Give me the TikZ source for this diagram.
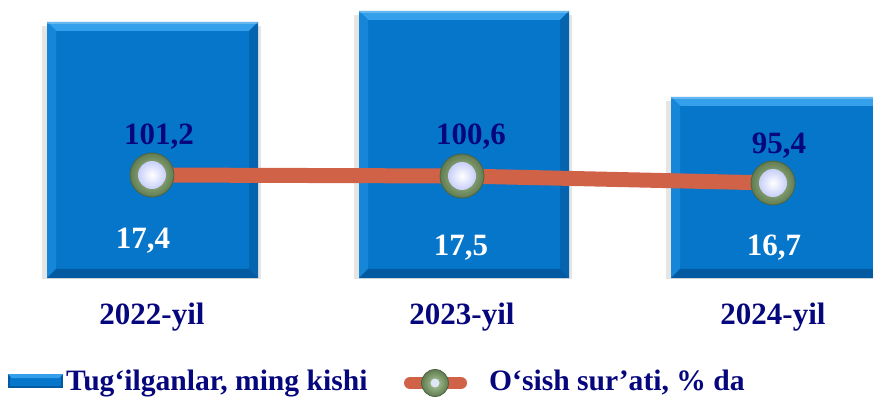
\documentclass[tikz,border=0pt]{standalone}
\usepackage{fontspec}
\setmainfont{Liberation Serif}
\usetikzlibrary{shadings,calc}
\definecolor{barblue}{RGB}{6,118,202}
\definecolor{bevtop}{RGB}{52,160,236}
\definecolor{bevleft}{RGB}{22,134,216}
\definecolor{bevright}{RGB}{4,100,176}
\definecolor{bevbot}{RGB}{4,90,160}
\definecolor{navy}{RGB}{6,6,125}
\definecolor{linecol}{RGB}{208,98,72}
\definecolor{ringdark}{RGB}{96,124,80}
\definecolor{ringlight}{RGB}{176,202,156}
\definecolor{innerc}{RGB}{222,230,248}
\newcommand{\bevbar}[4]{%
  \fill[black,opacity=0.10] (#1-5,#2+4) rectangle (#3+3,#4+1);
  \fill[barblue] (#1,#2) rectangle (#3,#4);
  \fill[bevtop] (#1,#2) -- (#3,#2) -- (#3-9,#2+9) -- (#1+9,#2+9) -- cycle;
  \fill[bevleft] (#1,#2) -- (#1+9,#2+9) -- (#1+9,#4-9) -- (#1,#4) -- cycle;
  \fill[bevright] (#3,#2) -- (#3-9,#2+9) -- (#3-9,#4-9) -- (#3,#4) -- cycle;
  \fill[bevbot] (#1,#4) -- (#1+9,#4-9) -- (#3-9,#4-9) -- (#3,#4) -- cycle;
  \fill[white,opacity=0.25] (#1,#2) rectangle (#3,#2+2);
}
\tikzset{
  marker/.style={circle, minimum size=#1, inner sep=0pt, draw=ringdark!80!black, line width=0.8pt,
    inner color=ringlight, outer color=ringdark},
  valtext/.style={font=\bfseries\fontsize{31}{31}\selectfont, text=navy, anchor=base, inner sep=0pt},
  bartext/.style={font=\bfseries\fontsize{31}{31}\selectfont, text=white, anchor=base, inner sep=0pt},
  cattext/.style={font=\bfseries\fontsize{31}{31}\selectfont, text=navy, anchor=base, inner sep=0pt},
  legtext/.style={font=\bfseries\fontsize{29.6}{29.6}\selectfont, text=navy, anchor=base west, inner sep=0pt},
}
\begin{document}
\begin{tikzpicture}[x=1pt,y=-1pt]
\useasboundingbox (0,0) rectangle (873,398);
\clip (0,0) rectangle (873,398);
% bars
\bevbar{47}{22}{258}{278}
\bevbar{359}{11}{569}{278}
\bevbar{671}{97}{882}{278}
% line
\coordinate (p1) at (152,175);
\coordinate (p2) at (462,176);
\coordinate (p3) at (773,183);
\draw[linecol, line width=15pt] (p1) -- (p2) -- (p3);
\foreach \p in {p1,p2,p3}{
  \node[marker=44pt] (m\p) at (\p) {};
  \shade[inner color=white, outer color=innerc!90!blue] (\p) circle (14);
}
% values
\node[valtext] (v1) at (159,145) {101,2};
\node[valtext] (v2) at (471,145) {100,6};
\node[valtext] (v3) at (779,154) {95,4};
\node[bartext] (b1) at (143,248) {17,4};
\node[bartext] (b2) at (461,256) {17,5};
\node[bartext] (b3) at (774,256) {16,7};
% categories
\node[cattext] (c1) at (152,324) {2022-yil};
\node[cattext] (c2) at (462,324) {2023-yil};
\node[cattext] (c3) at (773,324) {2024-yil};
% legend
\fill[bevbot] (8,374) rectangle (63,388);
\fill[barblue] (10,376) rectangle (61,386);
\fill[bevtop] (8,374) -- (63,374) -- (59,378) -- (12,378) -- cycle;
\node[legtext] (l1) at (66,390) {Tug‘ilganlar, ming kishi};
\coordinate (q1) at (410,383);
\coordinate (q2) at (461,383);
\draw[linecol, line width=12pt, line cap=round] (q1) -- (q2);
\node[marker=27pt] (lm) at (435,383) {};
\fill[innerc] (lm.center) circle (4.5);
\node[legtext] (l2) at (489,390) {O‘sish sur’ati, \% da};
\end{tikzpicture}
\end{document}
